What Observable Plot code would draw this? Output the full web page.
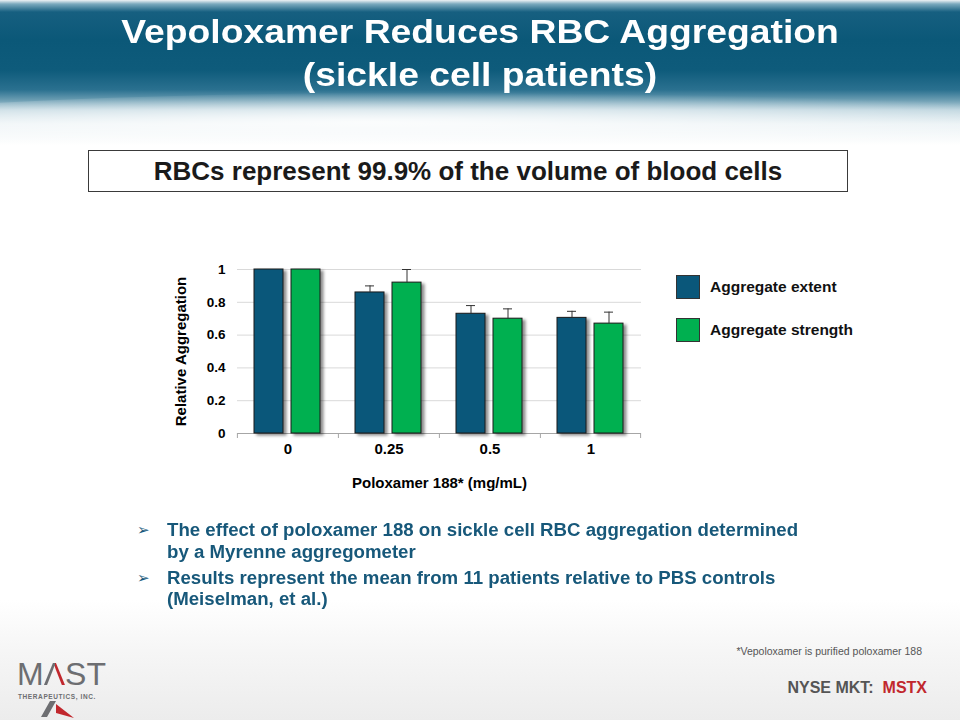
<!DOCTYPE html>
<html>
<head>
<meta charset="utf-8">
<script src="https://cdn.jsdelivr.net/npm/d3@7"></script>
<script src="https://cdn.jsdelivr.net/npm/@observablehq/plot@0.6"></script>
<style>
  html, body { margin: 0; padding: 0; }
  body { width: 960px; height: 720px; position: relative; overflow: hidden; background: #ffffff; font-family: "Liberation Sans", Arial, sans-serif; }
  .header { position: absolute; left: 0; top: 0; width: 960px; height: 145px;
    background: linear-gradient(180deg, #eef3f5 0px, #7aa9bd 4px, #165f80 12px, #0b5878 40px, #0e5b7b 70px, #2b7190 90px, #6b9db2 100px, #bcd4de 110px, #e9f1f4 124px, #ffffff 145px); }
  .wave { position: absolute; left: -150px; top: 92px; width: 1300px; height: 60px; border-radius: 50%;
    background: radial-gradient(ellipse at 40% 50%, rgba(255,255,255,0.85), rgba(255,255,255,0) 70%); }
  .footer { position: absolute; left: 0; top: 600px; width: 960px; height: 120px;
    background: linear-gradient(180deg, #ffffff 0px, #f6f6f6 50px, #ececec 120px); }
  .title { position: absolute; left: 0; top: 10px; width: 960px; text-align: center; color: #ffffff; font-weight: bold; font-size: 33px; line-height: 43px; transform: scaleX(1.13); transform-origin: 480px 0; }
  .box { position: absolute; left: 88px; top: 150px; width: 758px; height: 40px; border: 1px solid #3a3a3a; background: #fff; text-align: center; font-weight: bold; font-size: 26px; line-height: 40px; color: #1a1a1a; }
  #chart { position: absolute; left: 160px; top: 250px; }
  #chart g[aria-label="bar"] { filter: drop-shadow(3px 2px 1.5px rgba(0,0,0,0.45)); }
  .legend { position: absolute; left: 676px; top: 275px; }
  .legend .item { position: relative; height: 43px; }
  .legend .sw { position: absolute; left: 0; top: 0; width: 22px; height: 22px; border: 1px solid #333; }
  .legend .lab { position: absolute; left: 34px; top: 2px; font-weight: bold; font-size: 15.5px; line-height: 20px; color: #111; white-space: nowrap; }
  .bullets { position: absolute; left: 137px; top: 520px; width: 720px; color: #17587a; font-weight: bold; font-size: 18px; line-height: 21.5px; }
  .bullets .b { position: relative; padding-left: 30px; margin-bottom: 4.5px; }
  .bullets .txt { display: block; white-space: nowrap; transform: scaleX(1.036); transform-origin: 0 0; }
  .bullets .arrow { position: absolute; left: 0; top: 0; font-family: "DejaVu Sans", sans-serif; font-size: 15px; color: #17587a; }
  .foot1 { position: absolute; right: 38px; top: 645px; font-size: 10.5px; color: #555; }
  .foot2 { position: absolute; right: 33px; top: 679px; font-size: 16px; font-weight: bold; color: #555; }
  .foot2 span { color: #c1272d; }
  .logo { position: absolute; left: 17px; top: 660px; width: 100px; height: 58px; color: #6d6e71; }
  .logo .m { position: absolute; left: 0; top: 0; font-size: 32px; line-height: 28px; height: 28px; white-space: nowrap; }
  .logo .a { background: linear-gradient(90deg, #6d6e71 52%, #c1272d 52%); -webkit-background-clip: text; background-clip: text; color: transparent; }
  .logo .t { position: absolute; left: 1px; top: 33px; font-size: 6.5px; line-height: 7px; font-weight: bold; letter-spacing: 0.6px; white-space: nowrap; }
</style>
</head>
<body>
<div class="header"></div>
<div class="wave"></div>
<div class="footer"></div>
<div class="title">Vepoloxamer Reduces RBC Aggregation<br>(sickle cell patients)</div>
<div class="box">RBCs represent 99.9% of the volume of blood cells</div>
<div id="chart"></div>
<div class="legend" id="legend"></div>
<div class="bullets">
  <div class="b"><span class="arrow">➢</span><span class="txt">The effect of poloxamer 188 on sickle cell RBC aggregation determined</span><span class="txt">by a Myrenne aggregometer</span></div>
  <div class="b"><span class="arrow">➢</span><span class="txt">Results represent the mean from 11 patients relative to PBS controls</span><span class="txt">(Meiselman, et al.)</span></div>
</div>
<div class="foot1">*Vepoloxamer is purified poloxamer 188</div>
<div class="foot2">NYSE MKT:&nbsp; <span>MSTX</span></div>
<div class="logo"><span class="m">M<span class="a">Λ</span>ST</span><span class="t">THERAPEUTICS, INC.</span>
  <svg width="40" height="18" style="position:absolute;left:24px;top:41px"><polygon points="0,16 9,0 15,0 6,16" fill="#6d6e71"/><polygon points="15,3 33,17 15,12" fill="#c1272d"/></svg>
</div>
<script>
const doses = ["0", "0.25", "0.5", "1"];
const seriesNames = ["Aggregate extent", "Aggregate strength"];
const seriesColors = ["#0a577a", "#00b050"];
const extentValues = [1.0, 0.86, 0.73, 0.705];
const extentErrors = [0, 0.04, 0.05, 0.04];
const strengthValues = [1.0, 0.92, 0.70, 0.67];
const strengthErrors = [0, 0.08, 0.06, 0.07];
const yTicks = [0, 0.2, 0.4, 0.6, 0.8, 1];
const xLabel = "Poloxamer 188* (mg/mL)";
const yLabel = "Relative Aggregation";

const data = [];
doses.forEach((dose, i) => {
  data.push({dose, series: seriesNames[0], value: extentValues[i], err: extentErrors[i]});
  data.push({dose, series: seriesNames[1], value: strengthValues[i], err: strengthErrors[i]});
});
const withErr = data.filter(d => d.err > 0);

const edgeOffset = 31.6;
const chart = Plot.plot({
  width: 500,
  height: 250,
  marginLeft: 76,
  marginRight: 19,
  marginTop: 19,
  marginBottom: 67,
  style: {fontFamily: "'Liberation Sans', Arial, sans-serif", fontWeight: "bold", color: "#000", background: "transparent", overflow: "visible"},
  fx: {domain: doses, padding: 0},
  x: {domain: seriesNames, paddingInner: 0.2105, paddingOuter: 0.438, axis: null},
  y: {domain: [0, 1]},
  color: {domain: seriesNames, range: seriesColors},
  marks: [
    Plot.gridY(yTicks, {stroke: "#d9d9d9", strokeOpacity: 1}),
    Plot.ruleY([0], {stroke: "#a6a6a6"}),
    Plot.ruleX(doses, {fx: d => d, x: () => seriesNames[0], y1: 0, y2: 0, insetBottom: -5, dx: -edgeOffset, stroke: "#a6a6a6"}),
    Plot.ruleX(doses.slice(-1), {fx: d => d, x: () => seriesNames[1], y1: 0, y2: 0, insetBottom: -5, dx: edgeOffset, stroke: "#a6a6a6"}),
    Plot.barY(data, {fx: "dose", x: "series", y: "value", fill: "series", stroke: "#1a1a1a", strokeWidth: 1}),
    Plot.ruleX(withErr, {fx: "dose", x: "series", y1: "value", y2: d => d.value + d.err, stroke: "#333"}),
    Plot.tickY(withErr, {fx: "dose", x: "series", y: d => d.value + d.err, stroke: "#333", insetLeft: 10, insetRight: 10}),
    Plot.axisY(yTicks, {tickSize: 0, tickPadding: 12, fontSize: 13.5, tickFormat: d => String(d), label: yLabel, labelArrow: "none", labelAnchor: "center", labelOffset: 62}),
    Plot.axisFx({anchor: "bottom", tickSize: 0, tickPadding: 10, fontSize: 15, label: xLabel, labelAnchor: "center", labelOffset: 54})
  ]
});
chart.querySelectorAll('g[aria-label="y-axis label"] text, g[aria-label="fx-axis label"] text').forEach(t => {
  t.setAttribute("font-size", "15");
  t.textContent = t.textContent.replace(/\s*[↑→↓←]\s*/g, "");
});
document.getElementById("chart").appendChild(chart);

const legend = document.getElementById("legend");
seriesNames.forEach((name, i) => {
  const item = document.createElement("div");
  item.className = "item";
  const sw = document.createElement("div");
  sw.className = "sw";
  sw.style.background = seriesColors[i];
  const lab = document.createElement("div");
  lab.className = "lab";
  lab.textContent = name;
  item.appendChild(sw);
  item.appendChild(lab);
  legend.appendChild(item);
});
</script>
</body>
</html>
